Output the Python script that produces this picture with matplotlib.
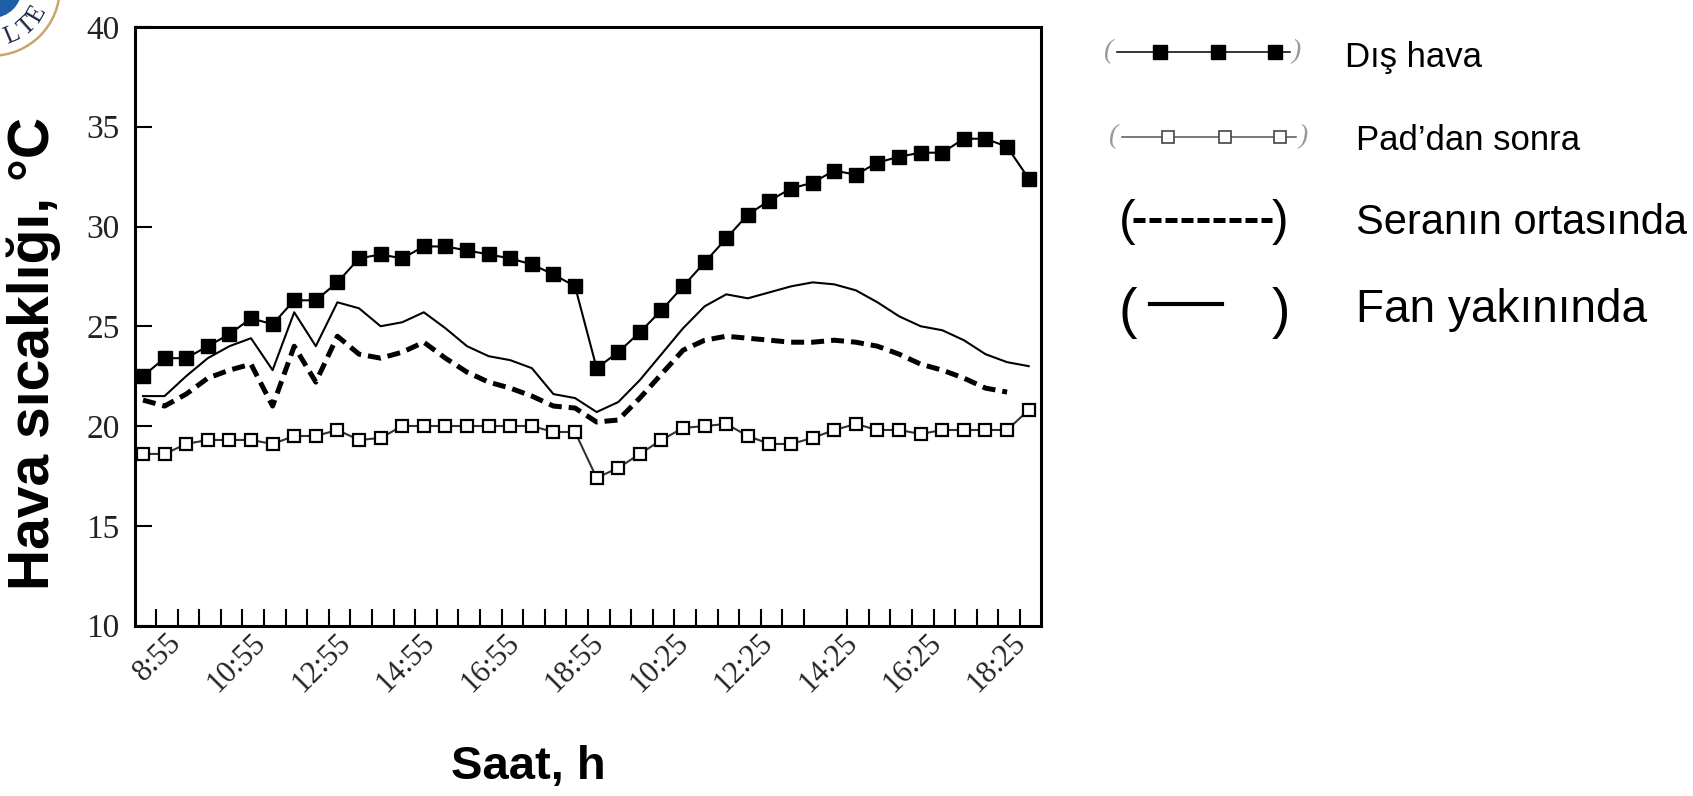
import matplotlib
matplotlib.use("Agg")
import matplotlib.pyplot as plt
import numpy as np
from matplotlib.patches import Circle
from matplotlib.ticker import FixedLocator

# saat etiketleri (olcumler 30 dk arayla)
saat_etiket = ['8:55', '10:55', '12:55', '14:55', '16:55', '18:55',
               '10:25', '12:25', '14:25', '16:25', '18:25']

# hava sicakliklari, C
dis_hava = [22.5, 23.4, 23.4, 24.0, 24.6, 25.4, 25.1, 26.3, 26.3, 27.2, 28.4,
            28.6, 28.4, 29.0, 29.0, 28.8, 28.6, 28.4, 28.1, 27.6, 27.0, 22.9,
            23.7, 24.7, 25.8, 27.0, 28.2, 29.4, 30.6, 31.3, 31.9, 32.2, 32.8,
            32.6, 33.2, 33.5, 33.7, 33.7, 34.4, 34.4, 34.0, 32.4]
pad_sonra = [18.6, 18.6, 19.1, 19.3, 19.3, 19.3, 19.1, 19.5, 19.5, 19.8, 19.3,
             19.4, 20.0, 20.0, 20.0, 20.0, 20.0, 20.0, 20.0, 19.7, 19.7, 17.4,
             17.9, 18.6, 19.3, 19.9, 20.0, 20.1, 19.5, 19.1, 19.1, 19.4, 19.8,
             20.1, 19.8, 19.8, 19.6, 19.8, 19.8, 19.8, 19.8, 20.8]
sera_orta = [21.3, 21.0, 21.6, 22.4, 22.8, 23.1, 21.0, 24.0, 22.2, 24.5, 23.6,
             23.4, 23.7, 24.2, 23.4, 22.7, 22.2, 21.9, 21.5, 21.0, 20.9, 20.2,
             20.3, 21.4, 22.6, 23.8, 24.3, 24.5, 24.4, 24.3, 24.2, 24.2, 24.3,
             24.2, 24.0, 23.6, 23.1, 22.8, 22.4, 21.9, 21.7]
fan_yakin = [21.5, 21.5, 22.5, 23.4, 24.0, 24.4, 22.8, 25.7, 24.0, 26.2, 25.9,
             25.0, 25.2, 25.7, 24.9, 24.0, 23.5, 23.3, 22.9, 21.6, 21.4, 20.7,
             21.2, 22.3, 23.6, 24.9, 26.0, 26.6, 26.4, 26.7, 27.0, 27.2, 27.1,
             26.8, 26.2, 25.5, 25.0, 24.8, 24.3, 23.6, 23.2, 23.0]

seri_adlari = ['Dış hava', 'Pad’dan sonra', 'Seranın ortasında', 'Fan yakınında']

W, H = 1693, 796
serif = 'Liberation Serif'
sans = 'Liberation Sans'

fig = plt.figure(figsize=(W / 100, H / 100), dpi=100)
ax = fig.add_axes([134.7 / W, 1 - 625.5 / H, (1041 - 134.7) / W, (625.5 - 27) / H])

ax.plot(np.arange(len(fan_yakin)), fan_yakin, color='black', lw=1.5, zorder=2)
ax.plot(np.arange(len(sera_orta)), sera_orta, color='black', lw=3.6,
        dashes=(2.6, 1.4), zorder=2)
ax.plot(np.arange(len(pad_sonra)), pad_sonra, color='#333333', lw=1.5,
        marker='s', ms=8.5, mfc='white', mec='black', mew=1.6, zorder=3)
ax.plot(np.arange(len(dis_hava)), dis_hava, color='black', lw=1.5,
        marker='s', ms=10, mfc='black', mec='black', zorder=4)

ax.set_xlim(-0.384, 41.57)
ax.set_ylim(10, 40)
yt = np.arange(10, 41, 5)
ax.set_yticks(yt)
ax.set_yticklabels([str(v) for v in yt], fontsize=24, family=serif, color='#222222')

# kucuk isaretler her 30 dk, etiketler ayri yerlesik
ax.xaxis.set_minor_locator(FixedLocator([k + 0.6 for k in range(41) if k != 31]))
ax.set_xticks(np.linspace(1.1, 40.2, len(saat_etiket)))
ax.set_xticklabels(saat_etiket, rotation=45, ha='right', va='top',
                   rotation_mode='anchor', fontsize=22, family=serif, color='#222222')
ax.tick_params(axis='x', which='major', length=0, pad=2)
ax.tick_params(axis='x', which='minor', direction='in', length=12, width=1.5)
ax.tick_params(axis='y', direction='in', length=12, width=1.5, pad=11)
for s in ax.spines.values():
    s.set_linewidth(2.2)

ax.set_xlabel('Saat, h', fontsize=34, fontweight='bold', family=sans, va='baseline')
ax.xaxis.set_label_coords((528 - 134.7) / 906.3, (625.5 - 779) / 598.5)
ax.set_ylabel('Hava sıcaklığı, °C', fontsize=41, fontweight='bold', family=sans,
              va='center', ha='center')
ax.yaxis.set_label_coords((34 - 134.7) / 906.3, (625.5 - 354) / 598.5)

# ust katman: logo ve el yapimi aciklama
ov = fig.add_axes([0, 0, 1, 1])
ov.set_xlim(0, W)
ov.set_ylim(H, 0)
ov.axis('off')

cx, cy = -8, -12
ov.add_patch(Circle((cx, cy), 69, fc='#c9a66b', ec='none'))
ov.add_patch(Circle((cx, cy), 66.5, fc='white', ec='none'))
ov.add_patch(Circle((cx, cy), 30, fc='#1f5fa8', ec='none'))
for ch, aci in [('L', 67), ('T', 48), ('E', 30)]:
    r = np.deg2rad(aci)
    ov.text(cx + 52 * np.cos(r), cy + 52 * np.sin(r), ch, fontsize=18,
            family=serif, color='#1c2340', rotation=90 - aci,
            ha='center', va='center')

sym_y = [52, 137, 220, 304]
text_base = [67, 150, 234, 322]

# 1: dis hava
ov.text(1108, sym_y[0], '(', fontsize=20, style='italic', family=serif,
        color='#9a9a9a', ha='center', va='center')
ov.plot([1117, 1290], [sym_y[0]] * 2, color='black', lw=1.1)
ov.plot([1160, 1218, 1275], [sym_y[0]] * 3, ls='none', marker='s', ms=10,
        color='black')
ov.text(1296, sym_y[0], ')', fontsize=20, style='italic', family=serif,
        color='#9a9a9a', ha='center', va='center')

# 2: pad'dan sonra
ov.text(1113, sym_y[1], '(', fontsize=20, style='italic', family=serif,
        color='#9a9a9a', ha='center', va='center')
ov.plot([1122, 1296], [sym_y[1]] * 2, color='#555555', lw=1.1)
ov.plot([1168, 1225, 1280], [sym_y[1]] * 3, ls='none', marker='s', ms=9,
        mfc='white', mec='#444444', mew=1.2)
ov.text(1303, sym_y[1], ')', fontsize=20, style='italic', family=serif,
        color='#9a9a9a', ha='center', va='center')

# 3: seranin ortasinda
ov.text(1119, 235, '(', fontsize=36, family=sans, ha='left', va='baseline')
ov.plot([1133, 1272], [sym_y[2]] * 2, color='black', lw=3.6, dashes=(2.4, 0.8))
ov.text(1288, 235, ')', fontsize=36, family=sans, ha='right', va='baseline')

# 4: fan yakininda
ov.text(1119, 327, '(', fontsize=40, family=sans, ha='left', va='baseline')
ov.plot([1150, 1222], [sym_y[3]] * 2, color='black', lw=3)
ov.text(1290, 327, ')', fontsize=40, family=sans, ha='right', va='baseline')

for i, ad in enumerate(seri_adlari):
    x0 = 1345 if i == 0 else 1356
    fs = [25, 25, 30, 33][i]
    ov.text(x0, text_base[i], ad, fontsize=fs, family=sans, ha='left', va='baseline')

fig.savefig('out.png', dpi=100, facecolor='white')
